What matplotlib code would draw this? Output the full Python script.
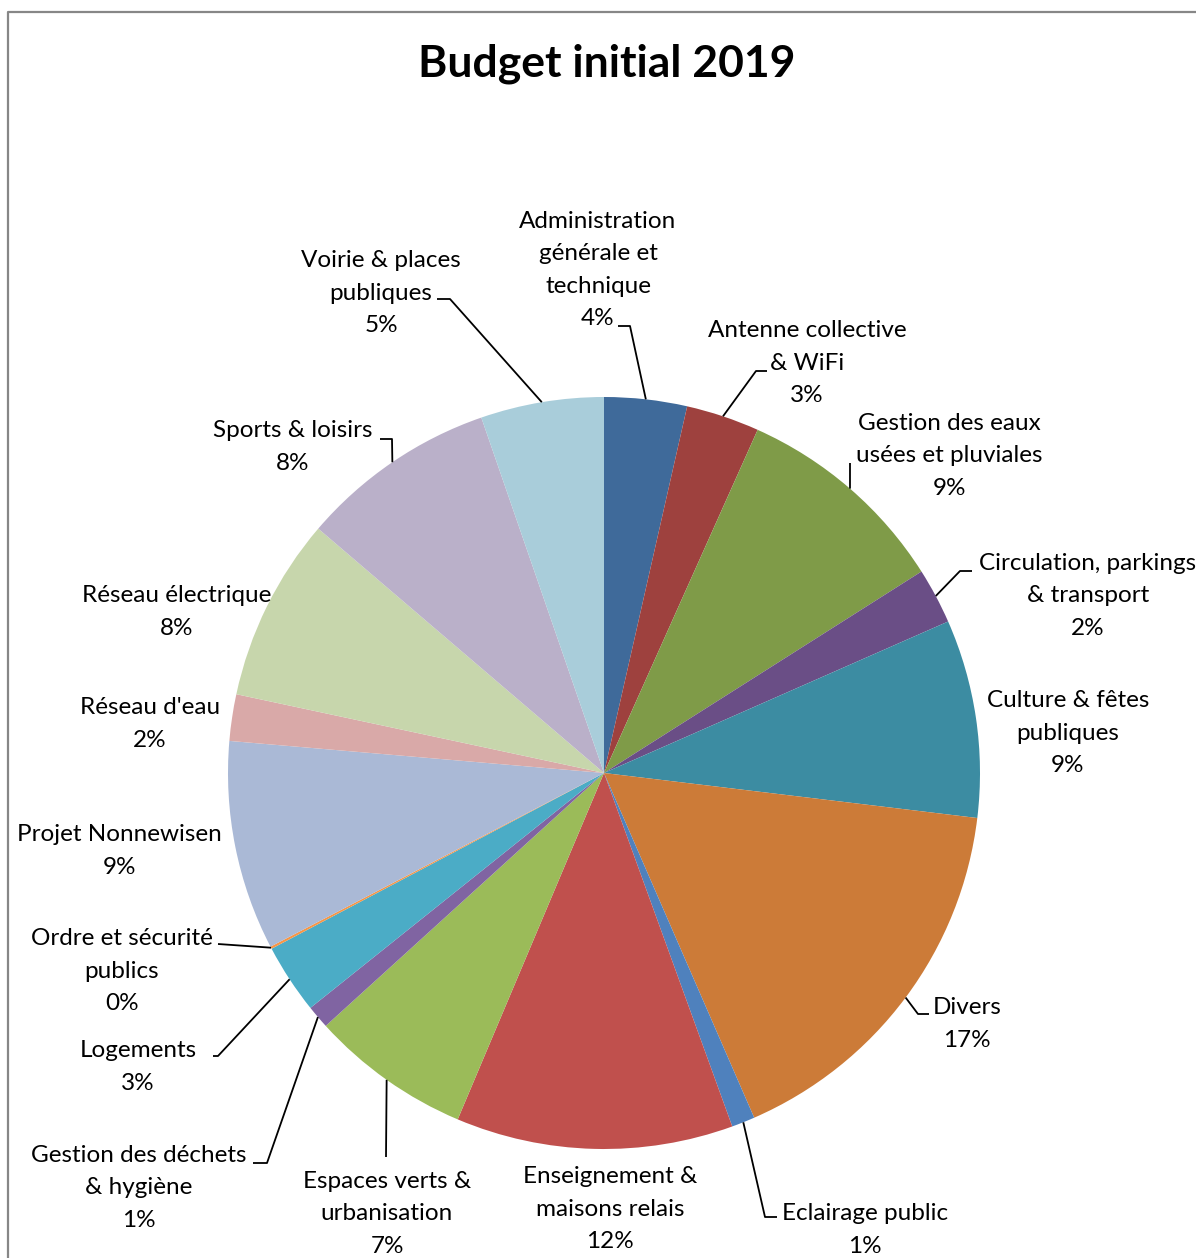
import numpy as np
import matplotlib
matplotlib.use('Agg')
import matplotlib.pyplot as plt

# budget share per domain, clockwise from 12 o'clock (percent)
categories = [
    "Administration\ngénérale et\ntechnique",
    "Antenne collective\n& WiFi",
    "Gestion des eaux\nusées et pluviales",
    "Circulation, parkings\n& transport",
    "Culture & fêtes\npubliques",
    "Divers",
    "Eclairage public",
    "Enseignement &\nmaisons relais",
    "Espaces verts &\nurbanisation",
    "Gestion des déchets\n& hygiène",
    "Logements",
    "Ordre et sécurité\npublics",
    "Projet Nonnewisen",
    "Réseau d'eau",
    "Réseau électrique",
    "Sports & loisirs",
    "Voirie & places\npubliques",
]
shares = [3.55, 3.15, 9.3, 2.4, 8.51, 16.55, 1.0, 11.9, 6.9, 1.0, 3.0, 0.1, 9.0, 2.0, 7.9, 8.45, 5.29]
colors = ['#3F6A9A', '#9E413E', '#7F9B48', '#6A4E86', '#3C8CA2', '#CC7B38',
          '#4F81BD', '#C0504D', '#9BBB59', '#8064A2', '#4BACC6', '#F79646',
          '#AAB9D6', '#D9A9A8', '#C7D6AC', '#BAB0C9', '#A9CDDA']
title = "Budget initial 2019"

W, H = 1196, 1258
FONT = 'Lato'


def Y(y):
    # layout is given in image pixels (origin top-left)
    return H - y


# label block centres in pixels
label_pos = [(598, 270), (807, 363), (949, 456), (1088, 596), (1068, 733),
             (967, 1024), (865, 1230), (610, 1209), (387, 1214), (139, 1188),
             (138, 1067), (122, 971), (119, 851), (150, 724), (177, 612),
             (293, 447), (381, 293)]

# leader line elbows (label side), the last point goes to the slice edge
leaders = {
    0: [(618, 326), (630, 326)],
    1: [(767, 371), (756, 371)],
    2: [(850, 463)],
    3: [(972, 571), (960, 571)],
    5: [(929, 1014), (918, 1014)],
    6: [(777, 1217), (765, 1217)],
    8: [(386, 1157)],
    9: [(253, 1163), (267, 1163)],
    10: [(213, 1056), (218, 1056)],
    11: [(218, 944)],
    15: [(380, 439), (392, 439)],
    16: [(437, 299), (450, 299)],
}

fig = plt.figure(figsize=(W / 100, H / 100), dpi=100)
ax = fig.add_axes([0, 0, 1, 1])

cx, cy, r = 604, Y(773), 376
wedges, _ = ax.pie(shares, colors=colors, startangle=90, counterclock=False,
                   center=(cx, cy), radius=r, wedgeprops=dict(linewidth=0))
ax.set_xlim(0, W)
ax.set_ylim(0, H)
ax.set_aspect('auto')
ax.axis('off')

for i, (name, v) in enumerate(zip(categories, shares)):
    x, y = label_pos[i]
    ax.text(x, Y(y), name + "\n" + "%.0f%%" % v, ha='center', va='center',
            fontsize=17.5, family=FONT, linespacing=1.65, color='black')
    if i in leaders:
        w = wedges[i]
        mid = np.deg2rad((w.theta1 + w.theta2) / 2)
        pts = leaders[i]
        xs = [p[0] for p in pts] + [cx + r * np.cos(mid)]
        ys = [Y(p[1]) for p in pts] + [cy + r * np.sin(mid)]
        ax.plot(xs, ys, color='black', lw=1.3, solid_capstyle='butt')

ax.text(607, Y(64), title, ha='center', va='center', fontsize=32,
        fontweight='bold', family=FONT)

# chart area frame (cut at right and bottom)
ax.plot([8, 8, W], [0, Y(12), Y(12)], color='#878787', lw=1.6)

fig.savefig('out.png', dpi=100)
